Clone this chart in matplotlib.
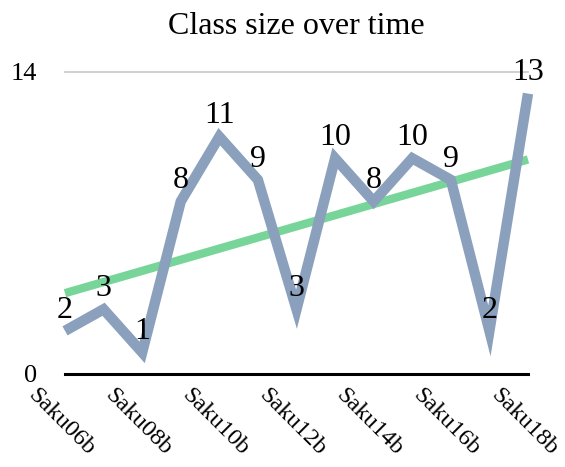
import matplotlib
matplotlib.use("Agg")
import matplotlib.pyplot as plt
import matplotlib.transforms as mtransforms
import numpy as np

categories = ["Saku06b", "Saku07b", "Saku08b", "Saku09b", "Saku10b", "Saku11b", "Saku12b",
              "Saku13b", "Saku14b", "Saku15b", "Saku16b", "Saku17b", "Saku18b"]
class_size = [2, 3, 1, 8, 11, 9, 3, 10, 8, 10, 9, 2, 13]
y_ticks = [0, 14]

plt.rcParams['font.family'] = ['Liberation Serif', 'DejaVu Serif']

fig = plt.figure(figsize=(5.65, 4.67), dpi=100)
ax = fig.add_axes([65/565, 1-374/467, (528-65)/565, (374-72)/467])

x = np.arange(len(categories))
y = np.array(class_size, dtype=float)

# linear trendline
slope, intercept = np.polyfit(x, y, 1)
ax.plot(x, intercept + slope * x, color='#78d59a', lw=6, solid_capstyle='butt',
        zorder=2, clip_on=False)

ax.plot(x, y, color='#8aa0bd', lw=7.5, solid_capstyle='butt', solid_joinstyle='miter',
        zorder=3, clip_on=False)

for xi, yi in zip(x, class_size):
    ax.annotate(str(yi), (xi, yi), xytext=(0, 4.5), textcoords='offset points',
                ha='center', va='bottom', fontsize=23, zorder=4, annotation_clip=False)

ax.set_xlim(0, len(categories) - 1)
ax.set_ylim(0, 14)
ax.set_yticks(y_ticks)
ax.set_yticklabels([str(t) for t in y_ticks], fontsize=19)
ax.tick_params(axis='y', length=0, pad=20)
ax.set_xticks(x[::2])
ax.set_xticklabels(categories[::2], rotation=-45, ha='center', va='top', fontsize=17.5)
ax.tick_params(axis='x', length=0, pad=8)
shift = mtransforms.ScaledTranslation(-4/100, 0, fig.dpi_scale_trans)
for lbl in ax.get_xticklabels():
    lbl.set_transform(lbl.get_transform() + shift)

ax.axhline(14, color='#c8c8c8', lw=1.2, zorder=1, clip_on=False)
for s in ['top', 'right', 'left']:
    ax.spines[s].set_visible(False)
ax.spines['bottom'].set_linewidth(2.2)
ax.spines['bottom'].set_color('black')

fig.text(296/565, 1-27/467, "Class size over time", ha='center', va='center', fontsize=23)

fig.savefig("out.png", dpi=100)
